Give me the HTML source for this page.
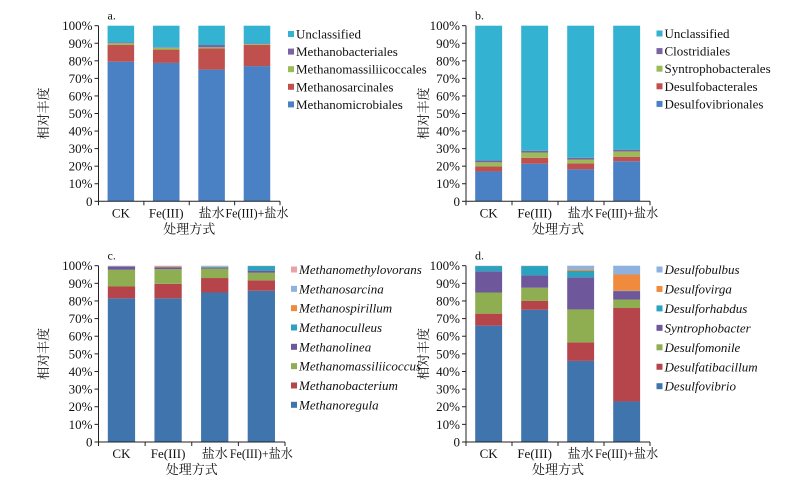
<!DOCTYPE html>
<html><head><meta charset="utf-8">
<style>
html,body{margin:0;padding:0;background:#fff;}
svg{display:block;font-family:"Liberation Serif","Noto Serif CJK SC","Noto Sans CJK SC",serif;}
</style></head>
<body>
<svg id="chart" width="790" height="487" viewBox="0 0 790 487" xmlns="http://www.w3.org/2000/svg"></svg>
<script>
const categories = ["CK","Fe(III)","盐水","Fe(III)+盐水"];
const yTicks = [0,10,20,30,40,50,60,70,80,90,100];

const seriesA = ["Methanomicrobiales","Methanosarcinales","Methanomassiliicoccales","Methanobacteriales","Unclassified"];
const valuesA = [[79.5,78.8,75,77],[9.5,7.6,12,12],[1,1,0.7,0.5],[0.5,0.3,1.3,0.3],[9.5,12.3,11,10.2]];

const seriesB = ["Desulfovibrionales","Desulfobacterales","Syntrophobacterales","Clostridiales","Unclassified"];
const valuesB = [[17,21.4,18.2,22.8],[2.8,3.4,3.4,2.6],[2.4,3,2.2,3],[1,1,1,1],[76.8,71.2,75.2,70.6]];

const seriesC = ["Methanoregula","Methanobacterium","Methanomassiliicoccus","Methanolinea","Methanoculleus","Methanospirillum","Methanosarcina","Methanomethylovorans"];
const valuesC = [[81.5,81.5,84.8,85.8],[6.7,8.2,8.2,5.9],[9.5,8.3,5.3,4.3],[1.8,1,0.5,1.2],[0.2,0.2,0.6,2.6],[0.1,0.5,0.2,0.1],[0.1,0.2,0.2,0.05],[0.1,0.1,0.2,0.05]];

const seriesD = ["Desulfovibrio","Desulfatibacillum","Desulfomonile","Syntrophobacter","Desulforhabdus","Desulfovirga","Desulfobulbus"];
const valuesD = [[66,75,46,23],[6.8,5,10.5,53],[12,7.5,18.7,4.8],[12,7,18.2,4.8],[3,5.3,3.6,0.2],[0.1,0.1,0.8,9.2],[0.1,0.1,2.2,5]];

const svg = document.getElementById('chart');
const NS = "http://www.w3.org/2000/svg";
function mk(tag, attrs, parent, text){
  const e = document.createElementNS(NS, tag);
  for (const k in attrs) e.setAttribute(k, attrs[k]);
  if (text !== undefined) e.textContent = text;
  parent.appendChild(e);
  return e;
}

function panel(cfg){
  const g = mk('g', {}, svg);
  
  
  const x0 = cfg.x0, x1 = cfg.x1, yT = cfg.yT, yB = cfg.yB;
  const yScale = v => yB - (v/100)*(yB - yT);
  const band = (x1 - x0) / categories.length;
  const xScale = i => x0 + band*0.2 + i*band;
  const bw = band*0.585;
  categories.forEach((c, i) => {
    let cum = 0;
    cfg.values.forEach((vals, s) => {
      const v = vals[i];
      const r = mk('rect', {x: xScale(i), y: yScale(cum + v), width: bw, height: Math.max(0, yScale(cum) - yScale(cum + v)), fill: cfg.colors[s]}, g);
      
      
      cum += v;
    });
  });
  const ya = mk('line', {x1: x0, y1: yT, x2: x0, y2: yB, stroke: '#222', 'stroke-width': 1}, g);
  
  
  const xa = mk('line', {x1: x0, y1: yB, x2: x1, y2: yB, stroke: '#222', 'stroke-width': 1}, g);
  
  
  yTicks.forEach(t => {
    const y = yScale(t);
    mk('line', {x1: x0 - 4, y1: y, x2: x0, y2: y, stroke: '#222', 'stroke-width': 1}, g);
    const tl = mk('text', {x: x0 - 6, y: y + 4.5, 'text-anchor': 'end', 'font-size': 13, fill: '#111'}, g, t === 0 ? '0' : t + '%');
    
    
  });
  for (let i = 0; i <= categories.length; i++) {
    const x = x0 + i*band;
    mk('line', {x1: x, y1: yB, x2: x, y2: yB + 4, stroke: '#222', 'stroke-width': 1}, g);
  }
  categories.forEach((c, i) => {
    const tl = mk('text', {x: xScale(i) + bw/2, y: yB + 16, 'text-anchor': 'middle', 'font-size': 13, fill: '#111'}, g, c);
    
    
    const w = tl.getComputedTextLength();
    if (w > 63) { tl.setAttribute('textLength', 63); tl.setAttribute('lengthAdjust', 'spacingAndGlyphs'); }
  });
  const xt = mk('text', {x: (x0 + x1)/2, y: yB + 32, 'text-anchor': 'middle', 'font-size': 13, fill: '#111'}, g, '处理方式');
  
  
  const yc = (yT + yB)/2;
  const yt = mk('text', {x: cfg.ylabX, y: yc, 'text-anchor': 'middle', 'font-size': 13, fill: '#111', transform: 'rotate(-90 ' + cfg.ylabX + ' ' + yc + ')'}, g, '相对丰度');
  
  
  const pl = mk('text', {x: x0 + 9, y: yT - 6, 'font-size': 12, fill: '#111'}, g, cfg.id + '.');
  
  
  const n = cfg.series.length;
  for (let k = 0; k < n; k++) {
    const s = n - 1 - k;
    const y = cfg.legY + k*cfg.legStep;
    const le = mk('g', {}, g);
    
    
    mk('rect', {x: cfg.legX, y: y - 3.5, width: 6, height: 6, fill: cfg.colors[s]}, le);
    mk('text', {x: cfg.legX + 8, y: y + 4, 'font-size': 13, fill: '#111', 'font-style': cfg.italic ? 'italic' : 'normal'}, le, cfg.series[s]);
  }
}

const blueA = '#4a80c4', red = '#c0504d', green = '#9bbb59', purple = '#7b62a3', cyan = '#34b2d2';
panel({id:'a', x0:98.5, x1:280, yT:25.7, yB:201.3, ylabX:48, series:seriesA, values:valuesA,
  colors:[blueA, red, green, purple, cyan], legX:288, legY:34.5, legStep:17.6, italic:false});
panel({id:'b', x0:466, x1:650, yT:25.7, yB:201.3, ylabX:428, series:seriesB, values:valuesB,
  colors:[blueA, red, green, purple, cyan], legX:656.5, legY:34, legStep:17.6, italic:false});
const blueC = '#3f74ad';
panel({id:'c', x0:98.5, x1:285, yT:265.7, yB:442, ylabX:48, series:seriesC, values:valuesC,
  colors:[blueC, '#b5454a', '#8fae52', '#6f579b', '#2aa3c0', '#f08a3c', '#8fb1de', '#e8a2a8'], legX:291, legY:270, legStep:19.33, italic:true});
panel({id:'d', x0:466, x1:650, yT:265.7, yB:442, ylabX:428, series:seriesD, values:valuesD,
  colors:[blueC, '#b5454a', '#8fae52', '#6f579b', '#2aa3c0', '#f08a3c', '#8fb1de'], legX:656.5, legY:270, legStep:19.45, italic:true});
</script>
</body></html>
